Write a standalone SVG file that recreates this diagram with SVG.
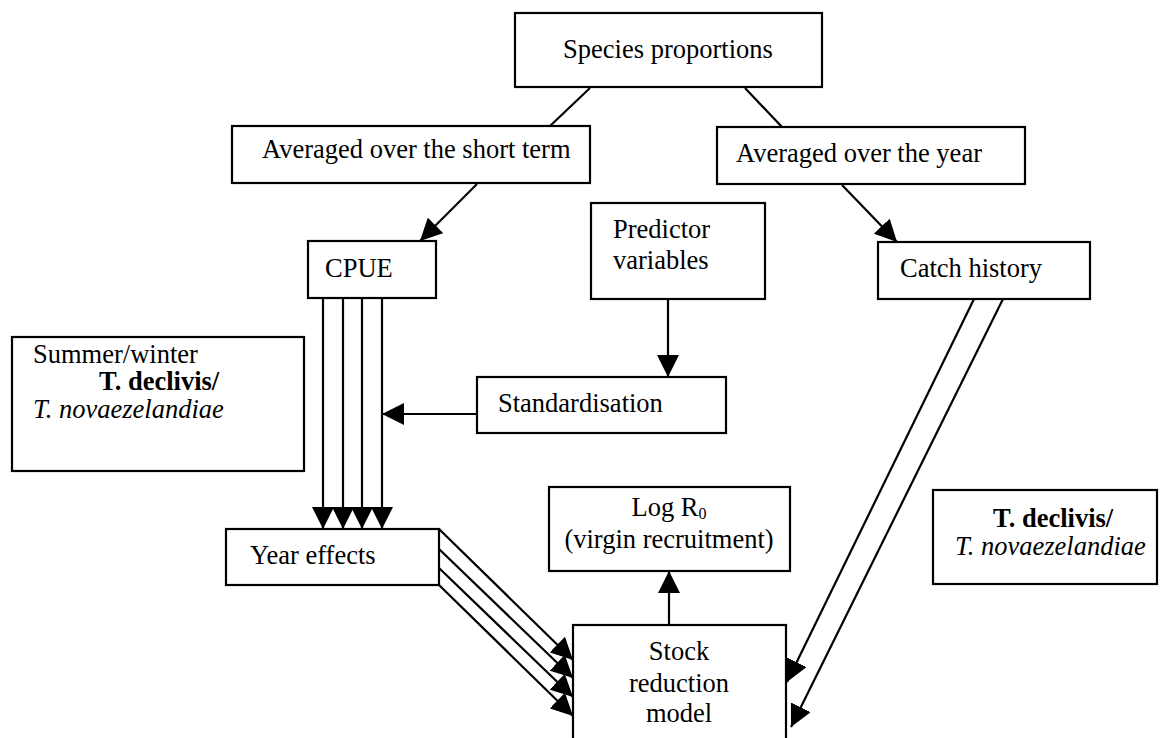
<svg xmlns="http://www.w3.org/2000/svg" width="1165" height="738" viewBox="0 0 1165 738">
<style>
.box{fill:#fff;stroke:#000;stroke-width:2.2}
.t{font-family:"Liberation Serif","Times New Roman",serif;font-size:26.5px;fill:#000}
.b{font-weight:bold}
.i{font-style:italic}
.c{stroke:#000;stroke-width:2.2;fill:none}
.a{marker-end:url(#ah)}
</style>
<defs>
<marker id="ah" markerUnits="userSpaceOnUse" markerWidth="22" markerHeight="22" viewBox="0 0 20 20" refX="20" refY="10" orient="auto">
<path d="M0,0 L20,10 L0,20 Z" fill="#000"/>
</marker>
</defs>
<rect width="1165" height="738" fill="#fff"/>
<g id="connectors">
<line class="c" x1="590" y1="88" x2="550" y2="126"/>
<line class="c" x1="745" y1="88" x2="782" y2="127"/>
<line class="c a" x1="477" y1="184" x2="420" y2="241"/>
<line class="c a" x1="842" y1="185" x2="897" y2="242"/>
<line class="c a" x1="668" y1="299" x2="668" y2="377"/>
<line class="c a" x1="477" y1="414" x2="382" y2="414"/>
<line class="c a" x1="323" y1="298" x2="323" y2="529"/>
<line class="c a" x1="343" y1="298" x2="343" y2="529"/>
<line class="c a" x1="362" y1="298" x2="362" y2="529"/>
<line class="c a" x1="382" y1="298" x2="382" y2="529"/>
<line class="c a" x1="439" y1="529" x2="573" y2="660"/>
<line class="c a" x1="439" y1="549" x2="573" y2="678"/>
<line class="c a" x1="439" y1="568" x2="573" y2="697"/>
<line class="c a" x1="439" y1="585" x2="573" y2="716"/>
<line class="c a" x1="669" y1="624" x2="669" y2="571"/>
<line class="c a" x1="974" y1="299" x2="787" y2="682"/>
<line class="c a" x1="1003" y1="299" x2="791" y2="727"/>
</g>
<g id="species">
<rect class="box" x="515" y="13" width="307" height="74"/>
<text class="t" x="668" y="58" text-anchor="middle">Species proportions</text>
</g>
<g id="short-term">
<rect class="box" x="232" y="126" width="358" height="57"/>
<text class="t" x="262" y="158">Averaged over the short term</text>
</g>
<g id="year">
<rect class="box" x="717" y="127" width="308" height="57"/>
<text class="t" x="736" y="162">Averaged over the year</text>
</g>
<g id="cpue">
<rect class="box" x="308" y="241" width="128" height="57"/>
<text class="t" x="325" y="277">CPUE</text>
</g>
<g id="predictor">
<rect class="box" x="591" y="203" width="174" height="96"/>
<text class="t" x="613" y="238">Predictor</text>
<text class="t" x="613" y="269">variables</text>
</g>
<g id="catch">
<rect class="box" x="878" y="242" width="212" height="57"/>
<text class="t" x="900" y="277">Catch history</text>
</g>
<g id="season">
<rect class="box" x="12" y="337" width="292" height="134"/>
<text class="t" x="33" y="363">Summer/winter</text>
<text class="t b" x="99" y="390">T. declivis/</text>
<text class="t i" x="33" y="418">T. novaezelandiae</text>
</g>
<g id="standardisation">
<rect class="box" x="477" y="377" width="249" height="56"/>
<text class="t" x="498" y="412">Standardisation</text>
</g>
<g id="year-effects">
<rect class="box" x="226" y="529" width="213" height="56"/>
<text class="t" x="250" y="564">Year effects</text>
</g>
<g id="logr0">
<rect class="box" x="549" y="487" width="241" height="84"/>
<text class="t" x="669" y="516" text-anchor="middle">Log R<tspan font-size="16" dy="3">0</tspan></text>
<text class="t" x="669" y="548" text-anchor="middle">(virgin recruitment)</text>
</g>
<g id="species-right">
<rect class="box" x="933" y="490" width="224" height="94"/>
<text class="t b" x="993" y="527">T. declivis/</text>
<text class="t i" x="955" y="555">T. novaezelandiae</text>
</g>
<g id="stock">
<rect class="box" x="573" y="625" width="213" height="130"/>
<text class="t" x="679" y="660" text-anchor="middle">Stock</text>
<text class="t" x="679" y="692" text-anchor="middle">reduction</text>
<text class="t" x="679" y="722" text-anchor="middle">model</text>
</g>
</svg>
